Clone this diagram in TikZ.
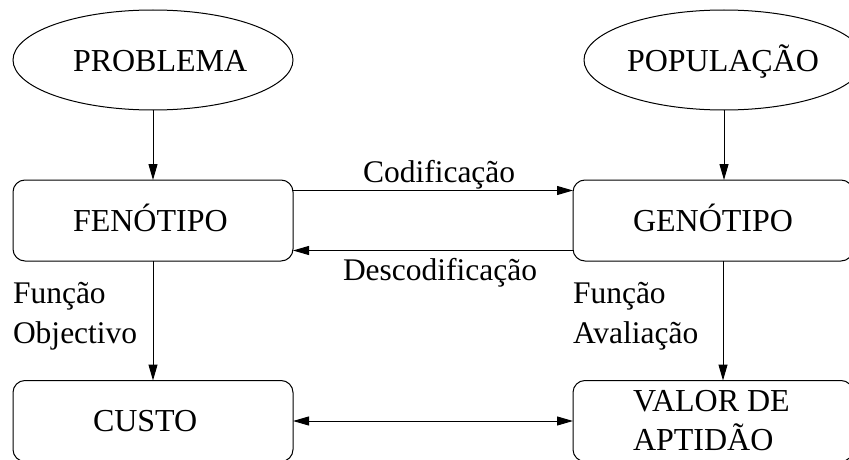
\documentclass[tikz,border=0pt]{standalone}
\usepackage{fontspec}
\setmainfont{Liberation Serif}
\usetikzlibrary{arrows.meta,shapes.geometric}

\tikzset{
  every picture/.style={line width=1pt},
  stage/.style={draw, rounded corners=12pt, minimum width=280pt, minimum height=81pt,
    inner sep=0pt, outer sep=0pt},
  source/.style={draw, ellipse, minimum width=280pt, minimum height=100pt,
    inner sep=0pt, outer sep=0pt},
  txt/.style={anchor=base west, inner sep=0pt, outer sep=0pt,
    font=\fontsize{32}{39}\selectfont},
  lbl/.style={anchor=base west, inner sep=0pt, outer sep=0pt, align=left,
    font=\fontsize{31.5}{40}\selectfont},
  flow/.style={-{Triangle[length=16pt,width=9pt]}},
  both/.style={{Triangle[length=16pt,width=9pt]}-{Triangle[length=16pt,width=9pt]}}
}

\begin{document}
\begin{tikzpicture}[x=1pt, y=-1pt]
  \useasboundingbox (0,0) rectangle (849,460);

  % sources
  \node[source] (prob) at (153,60) {};
  \node[source] (pop)  at (724,60) {};
  \node[txt] (probT) at (73,72)  {PROBLEMA};
  \node[txt] (popT)  at (627,72) {POPULAÇÃO};

  % stages
  \node[stage] (fen) at (153,220.5) {};
  \node[stage] (gen) at (713,220.5) {};
  \node[stage] (cus) at (153,421) {};
  \node[stage] (val) at (713,421) {};
  \node[txt] (fenT) at (73,231)  {FENÓTIPO};
  \node[txt] (genT) at (633,231) {GENÓTIPO};
  \node[txt] (cusT) at (93,431)  {CUSTO};
  % base anchor of a multi-line node sits on its last line
  \node[txt, align=left] (valT) at (633,450) {VALOR DE\\APTIDÃO};

  % vertical flows
  \draw[flow] (prob) -- (fen);
  \draw[flow] (pop.south) -- (pop.south |- gen.north);
  \draw[flow] (fen) -- (cus);
  \draw[flow] ([xshift=10pt]gen.south) -- ([xshift=10pt]val.north);

  % coding / decoding
  \draw[flow] ([yshift=30pt]fen.east) -- ([yshift=30pt]gen.west);
  \draw[flow] ([yshift=-30pt]gen.west) -- ([yshift=-30pt]fen.east);
  \draw[both] (cus) -- (val);

  % labels
  \node[lbl] (cod)  at (363,182) {Codificação};
  \node[lbl] (desc) at (343,280) {Descodificação};
  \node[lbl] (fobj) at (13,343)  {Função\\Objectivo};
  \node[lbl] (faval) at (573,343) {Função\\Avaliação};
\end{tikzpicture}
\end{document}
